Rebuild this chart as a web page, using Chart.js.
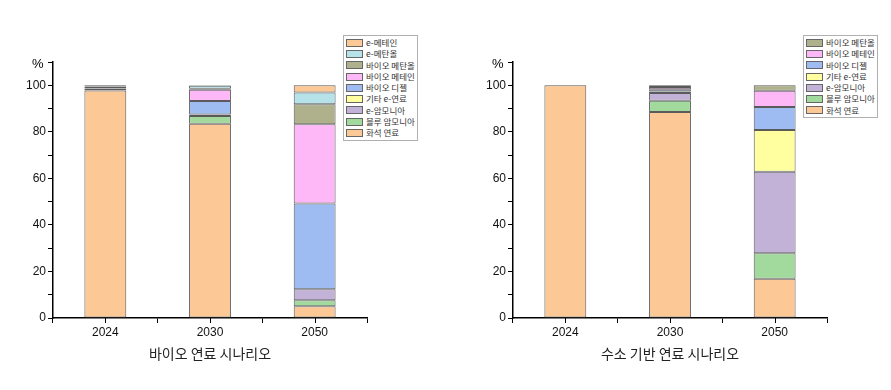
<!DOCTYPE html>
<html>
<head>
<meta charset="utf-8">
<script src="https://cdn.jsdelivr.net/npm/chart.js@4"></script>
<style>
  body { margin: 0; background: #fff; font-family: "Liberation Sans", "Noto Sans CJK KR", sans-serif; }
  #wrap { position: relative; width: 891px; height: 390px; overflow: hidden; }
  .box { position: absolute; top: 0; width: 431px; height: 390px; }
  .pct { position: absolute; top: 56px; left: 32px; font-size: 13px; color: #000; }
  .xtitle { position: absolute; top: 343px; left: 53px; width: 314px; text-align: center;
            font-family: "Noto Sans CJK KR", sans-serif; font-size: 14px; color: #222; }
  .legend { position: absolute; top: 35px; border: 1px solid #b0b0b0; background: #fff;
            padding: 1px 2px 1px 2px; font-family: "Noto Sans CJK KR", sans-serif; font-size: 8.5px; color: #333; }
  .legend div { height: 11.3px; line-height: 11.3px; white-space: nowrap; display: flex; align-items: center; }
  .legend span.sw { display: inline-block; width: 17px; height: 8px; border: 1px solid #666; margin-right: 3px; box-sizing: border-box; }
</style>
</head>
<body>
<div id="wrap">
  <div class="box" style="left:0">
    <canvas id="bioChart" width="431" height="390"></canvas>
    <div class="pct">%</div>
    <div class="xtitle">바이오 연료 시나리오</div>
    <div class="legend" id="bioLegend" style="left:343px"></div>
  </div>
  <div class="box" style="left:460px">
    <canvas id="h2Chart" width="431" height="390"></canvas>
    <div class="pct">%</div>
    <div class="xtitle">수소 기반 연료 시나리오</div>
    <div class="legend" id="h2Legend" style="left:343px"></div>
  </div>
</div>
<script>
const years = ['2024', '2030', '2050'];

// 바이오 연료 시나리오 (%)
const bioFossil      = [97.8, 83.5, 5.0];
const bioBlueNH3     = [0.8, 3.3, 2.6];
const bioENH3        = [0, 0.6, 4.7];
const bioOtherE      = [0, 0, 0];
const bioDiesel      = [0.9, 5.8, 36.9];
const bioMethane     = [0, 4.9, 34.1];
const bioMethanol    = [0, 0.4, 8.5];
const bioEMethanol   = [0.5, 1.3, 5.1];
const bioEMethane    = [0, 0.2, 3.1];

// 수소 기반 연료 시나리오 (%)
const h2Fossil       = [100, 88.5, 16.9];
const h2BlueNH3      = [0, 4.8, 10.9];
const h2ENH3         = [0, 3.4, 35.0];
const h2OtherE       = [0, 0.6, 18.0];
const h2BioDiesel    = [0, 1.0, 9.9];
const h2BioMethane   = [0, 1.0, 7.0];
const h2BioMethanol  = [0, 0.7, 2.3];

const yTickLabels = [0, 20, 40, 60, 80, 100];

const colors = {
  fossil: '#FBC896',
  blueNH3: '#A1DA9C',
  eNH3: '#C2B2D8',
  otherE: '#FFFFA0',
  bioDiesel: '#9EBCF2',
  bioMethane: '#FFB8F7',
  bioMethanol: '#AEB18B',
  eMethanol: '#B6E3E9',
  eMethane: '#FBC896'
};

function ds(label, data, color) {
  return {
    label: label,
    data: data,
    backgroundColor: color,
    borderColor: '#5a5a5a',
    // no outline for empty segments
    borderWidth: ctx => (ctx.raw ? 1 : 0),
    borderSkipped: false,
    barPercentage: 0.4,
    categoryPercentage: 1.0
  };
}

// small tick marks under each category centre
const centerTicks = {
  id: 'centerTicks',
  afterDraw(chart) {
    const x = chart.scales.x;
    const c = chart.ctx;
    c.save();
    c.strokeStyle = '#000';
    c.lineWidth = 1;
    years.forEach((y, i) => {
      const px = Math.round(x.getPixelForValue(i)) + 0.5;
      c.beginPath();
      c.moveTo(px, x.top);
      c.lineTo(px, x.top + 5);
      c.stroke();
    });
    c.restore();
  }
};

function makeChart(id, datasets) {
  return new Chart(document.getElementById(id).getContext('2d'), {
    type: 'bar',
    data: { labels: years, datasets: datasets },
    options: {
      responsive: false,
      animation: false,
      layout: { padding: { left: 0, right: 64, top: 62, bottom: 32 } },
      plugins: { legend: { display: false }, tooltip: { enabled: false } },
      scales: {
        x: {
          stacked: true,
          offset: true,
          grid: { display: true, offset: true, drawOnChartArea: false, tickLength: 5, color: '#000', lineWidth: 1 },
          border: { color: '#000', width: 1.5 },
          ticks: { color: '#111', padding: 2, font: { size: 12, family: '"Liberation Sans", Arial' } },
          afterFit(s) { s.height = 40; }
        },
        y: {
          stacked: true,
          min: 0,
          max: 110,
          grid: { drawOnChartArea: false, tickLength: 5, color: '#000', lineWidth: 1 },
          border: { color: '#000', width: 1.5 },
          ticks: {
            stepSize: 10,
            color: '#111',
            padding: 2,
            font: { size: 12, family: '"Liberation Sans", Arial' },
            callback: v => yTickLabels.includes(v) ? String(v) : ''
          },
          afterFit(s) { s.width = 53; }
        }
      }
    },
    plugins: [centerTicks]
  });
}

const bioSets = [
  ds('화석 연료', bioFossil, colors.fossil),
  ds('블루 암모니아', bioBlueNH3, colors.blueNH3),
  ds('e-암모니아', bioENH3, colors.eNH3),
  ds('기타 e-연료', bioOtherE, colors.otherE),
  ds('바이오 디젤', bioDiesel, colors.bioDiesel),
  ds('바이오 메테인', bioMethane, colors.bioMethane),
  ds('바이오 메탄올', bioMethanol, colors.bioMethanol),
  ds('e-메탄올', bioEMethanol, colors.eMethanol),
  ds('e-메테인', bioEMethane, colors.eMethane)
];

const h2Sets = [
  ds('화석 연료', h2Fossil, colors.fossil),
  ds('블루 암모니아', h2BlueNH3, colors.blueNH3),
  ds('e-암모니아', h2ENH3, colors.eNH3),
  ds('기타 e-연료', h2OtherE, colors.otherE),
  ds('바이오 디젤', h2BioDiesel, colors.bioDiesel),
  ds('바이오 메테인', h2BioMethane, colors.bioMethane),
  ds('바이오 메탄올', h2BioMethanol, colors.bioMethanol)
];

function buildLegend(elId, sets) {
  const el = document.getElementById(elId);
  sets.slice().reverse().forEach(d => {
    const row = document.createElement('div');
    const sw = document.createElement('span');
    sw.className = 'sw';
    sw.style.background = d.backgroundColor;
    row.appendChild(sw);
    row.appendChild(document.createTextNode(d.label));
    el.appendChild(row);
  });
}

makeChart('bioChart', bioSets);
makeChart('h2Chart', h2Sets);
buildLegend('bioLegend', bioSets);
buildLegend('h2Legend', h2Sets);
</script>
</body>
</html>
